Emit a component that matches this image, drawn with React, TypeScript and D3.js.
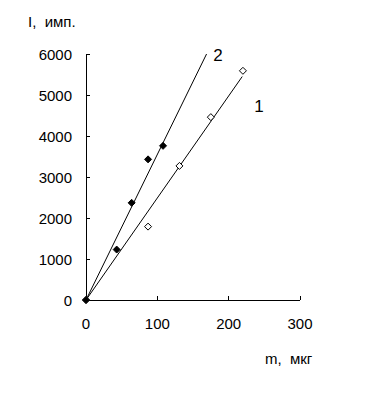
import React from "react";
import * as d3 from "d3";

const xTicks = [0, 100, 200, 300];
const yTicks = [0, 1000, 2000, 3000, 4000, 5000, 6000];

// Series 2 (filled diamonds)
const series2M = [0, 43, 64, 87, 108];
const series2I = [0, 1230, 2370, 3430, 3760];
// Series 1 (open diamonds)
const series1M = [0, 87, 131, 175, 220];
const series1I = [0, 1790, 3270, 4460, 5590];

// Fit lines (start, end)
const line2M = [0, 169];
const line2I = [0, 6000];
const line1M = [0, 219];
const line1I = [0, 5450];

const xTitle = "m,  мкг";
const yTitle = "I,  имп.";

const W = 365;
const H = 402;

export default function App() {
  const x = d3.scaleLinear().domain([0, 300]).range([86, 300]);
  const y = d3.scaleLinear().domain([0, 6000]).range([300, 54]);
  const font = "'Liberation Sans', Arial, sans-serif";
  const lineGen = d3
    .line<[number, number]>()
    .x((d) => x(d[0]))
    .y((d) => y(d[1]));
  const diamond = (cx: number, cy: number, r: number) =>
    `M${cx},${cy - r}L${cx + r},${cy}L${cx},${cy + r}L${cx - r},${cy}Z`;

  const l1 = line1M.map((m, i) => [m, line1I[i]] as [number, number]);
  const l2 = line2M.map((m, i) => [m, line2I[i]] as [number, number]);

  return (
    <svg
      width={W}
      height={H}
      style={{ position: "absolute", left: 0, top: 0, background: "#fff" }}
      fontFamily={font}
    >
      <rect width={W} height={H} fill="#fff" />
      {/* axes */}
      <line x1={x(0)} x2={x(0)} y1={y(0)} y2={y(6000)} stroke="#000" strokeWidth={1} shapeRendering="crispEdges" />
      <line x1={x(0)} x2={x(300)} y1={y(0)} y2={y(0)} stroke="#000" strokeWidth={1} shapeRendering="crispEdges" />
      {yTicks.map((t) => (
        <g key={"y" + t}>
          <line x1={x(0)} x2={x(0) + 4} y1={y(t)} y2={y(t)} stroke="#000" shapeRendering="crispEdges" />
          <text x={72} y={y(t) + 5.5} textAnchor="end" fontSize={15} fill="#000">
            {t}
          </text>
        </g>
      ))}
      {xTicks.map((t) => (
        <g key={"x" + t}>
          <line x1={x(t)} x2={x(t)} y1={y(0)} y2={y(0) - 4} stroke="#000" shapeRendering="crispEdges" />
          <text x={x(t)} y={329} textAnchor="middle" fontSize={15} fill="#000">
            {t}
          </text>
        </g>
      ))}
      <text x={28} y={27} fontSize={15} fill="#000" style={{ whiteSpace: "pre" }}>
        {yTitle}
      </text>
      <text x={265} y={364} fontSize={15} fill="#000" style={{ whiteSpace: "pre" }}>
        {xTitle}
      </text>
      {/* fit lines */}
      <path d={lineGen(l1) || ""} stroke="#000" strokeWidth={1} fill="none" />
      <path d={lineGen(l2) || ""} stroke="#000" strokeWidth={1} fill="none" />
      {/* markers */}
      {series1M.map((m, i) => (
        <path key={"s1" + i} d={diamond(x(m), y(series1I[i]), 3.5)} fill="#fff" stroke="#000" strokeWidth={1} />
      ))}
      {series2M.map((m, i) => (
        <path key={"s2" + i} d={diamond(x(m), y(series2I[i]), 3.5)} fill="#000" stroke="#000" strokeWidth={1} />
      ))}
      <text x={218} y={61} textAnchor="middle" fontSize={17} fill="#000">
        2
      </text>
      <text x={259} y={112} textAnchor="middle" fontSize={17} fill="#000">
        1
      </text>
    </svg>
  );
}
